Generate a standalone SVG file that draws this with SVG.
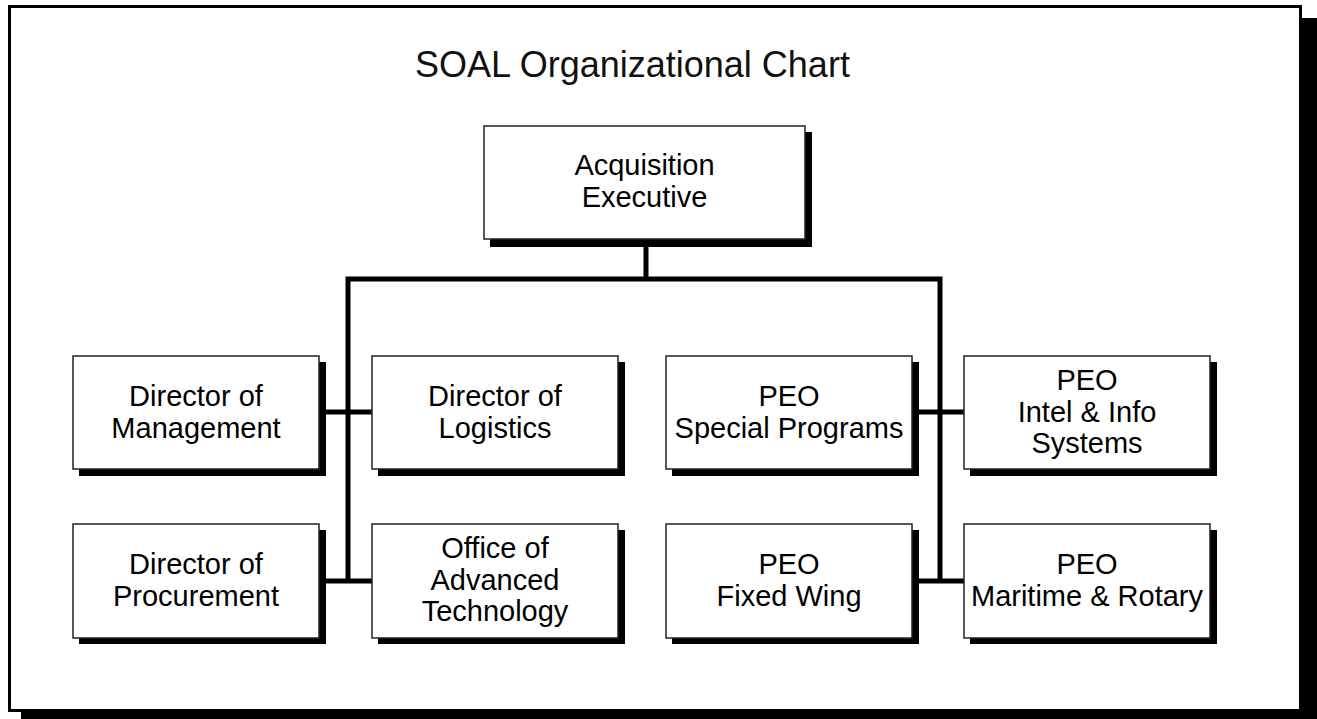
<svg xmlns="http://www.w3.org/2000/svg" width="1317" height="719" viewBox="0 0 1317 719">
<style>
.shadow{fill:#000}
.box{fill:#fff;stroke:#222;stroke-width:1.5}
.lbl{font-family:"Liberation Sans",Arial,sans-serif;font-size:29px;fill:#000;text-anchor:middle}
.title{font-family:"Liberation Sans",Arial,sans-serif;font-size:36px;fill:#111}
.conn{stroke:#000;stroke-width:5;fill:none;stroke-linecap:butt}
</style>
<rect width="1317" height="719" fill="#fff"/>
<g id="frame">
<rect class="shadow" x="21" y="18" width="1296" height="701"/>
<rect x="9.5" y="6.5" width="1291" height="704" fill="#fff" stroke="#000" stroke-width="3"/>
</g>
<text class="title" x="415" y="77">SOAL Organizational Chart</text>
<g id="connectors">
<line class="conn" x1="646" y1="239" x2="646" y2="279"/>
<polyline class="conn" points="348,581 348,279 940,279 940,581"/>
<line class="conn" x1="319" y1="412" x2="372" y2="412"/>
<line class="conn" x1="319" y1="581" x2="372" y2="581"/>
<line class="conn" x1="912" y1="412" x2="964" y2="412"/>
<line class="conn" x1="912" y1="581" x2="964" y2="581"/>
</g>
<g id="acq-exec">
<rect class="shadow" x="490" y="132" width="322" height="115"/>
<rect class="box" x="484" y="126" width="321" height="113"/>
<text class="lbl" x="644.5" y="175">Acquisition</text>
<text class="lbl" x="644.5" y="207">Executive</text>
</g>
<g id="dir-mgmt">
<rect class="shadow" x="79" y="362" width="247" height="114"/>
<rect class="box" x="73" y="356" width="246" height="113"/>
<text class="lbl" x="196" y="406">Director of</text>
<text class="lbl" x="196" y="438">Management</text>
</g>
<g id="dir-log">
<rect class="shadow" x="378" y="362" width="247" height="114"/>
<rect class="box" x="372" y="356" width="246" height="113"/>
<text class="lbl" x="495" y="406">Director of</text>
<text class="lbl" x="495" y="438">Logistics</text>
</g>
<g id="peo-special">
<rect class="shadow" x="672" y="362" width="247" height="114"/>
<rect class="box" x="666" y="356" width="246" height="113"/>
<text class="lbl" x="789" y="406">PEO</text>
<text class="lbl" x="789" y="438">Special Programs</text>
</g>
<g id="peo-intel">
<rect class="shadow" x="970" y="362" width="247" height="114"/>
<rect class="box" x="964" y="356" width="246" height="113"/>
<text class="lbl" x="1087" y="390">PEO</text>
<text class="lbl" x="1087" y="422">Intel &amp; Info</text>
<text class="lbl" x="1087" y="453">Systems</text>
</g>
<g id="dir-proc">
<rect class="shadow" x="79" y="530" width="247" height="114"/>
<rect class="box" x="73" y="524" width="246" height="114"/>
<text class="lbl" x="196" y="574">Director of</text>
<text class="lbl" x="196" y="606">Procurement</text>
</g>
<g id="oat">
<rect class="shadow" x="378" y="530" width="247" height="114"/>
<rect class="box" x="372" y="524" width="246" height="114"/>
<text class="lbl" x="495" y="558">Office of</text>
<text class="lbl" x="495" y="590">Advanced</text>
<text class="lbl" x="495" y="621">Technology</text>
</g>
<g id="peo-fixed">
<rect class="shadow" x="672" y="530" width="247" height="114"/>
<rect class="box" x="666" y="524" width="246" height="114"/>
<text class="lbl" x="789" y="574">PEO</text>
<text class="lbl" x="789" y="606">Fixed Wing</text>
</g>
<g id="peo-maritime">
<rect class="shadow" x="970" y="530" width="247" height="114"/>
<rect class="box" x="964" y="524" width="246" height="114"/>
<text class="lbl" x="1087" y="574">PEO</text>
<text class="lbl" x="1087" y="606">Maritime &amp; Rotary</text>
</g>
</svg>
